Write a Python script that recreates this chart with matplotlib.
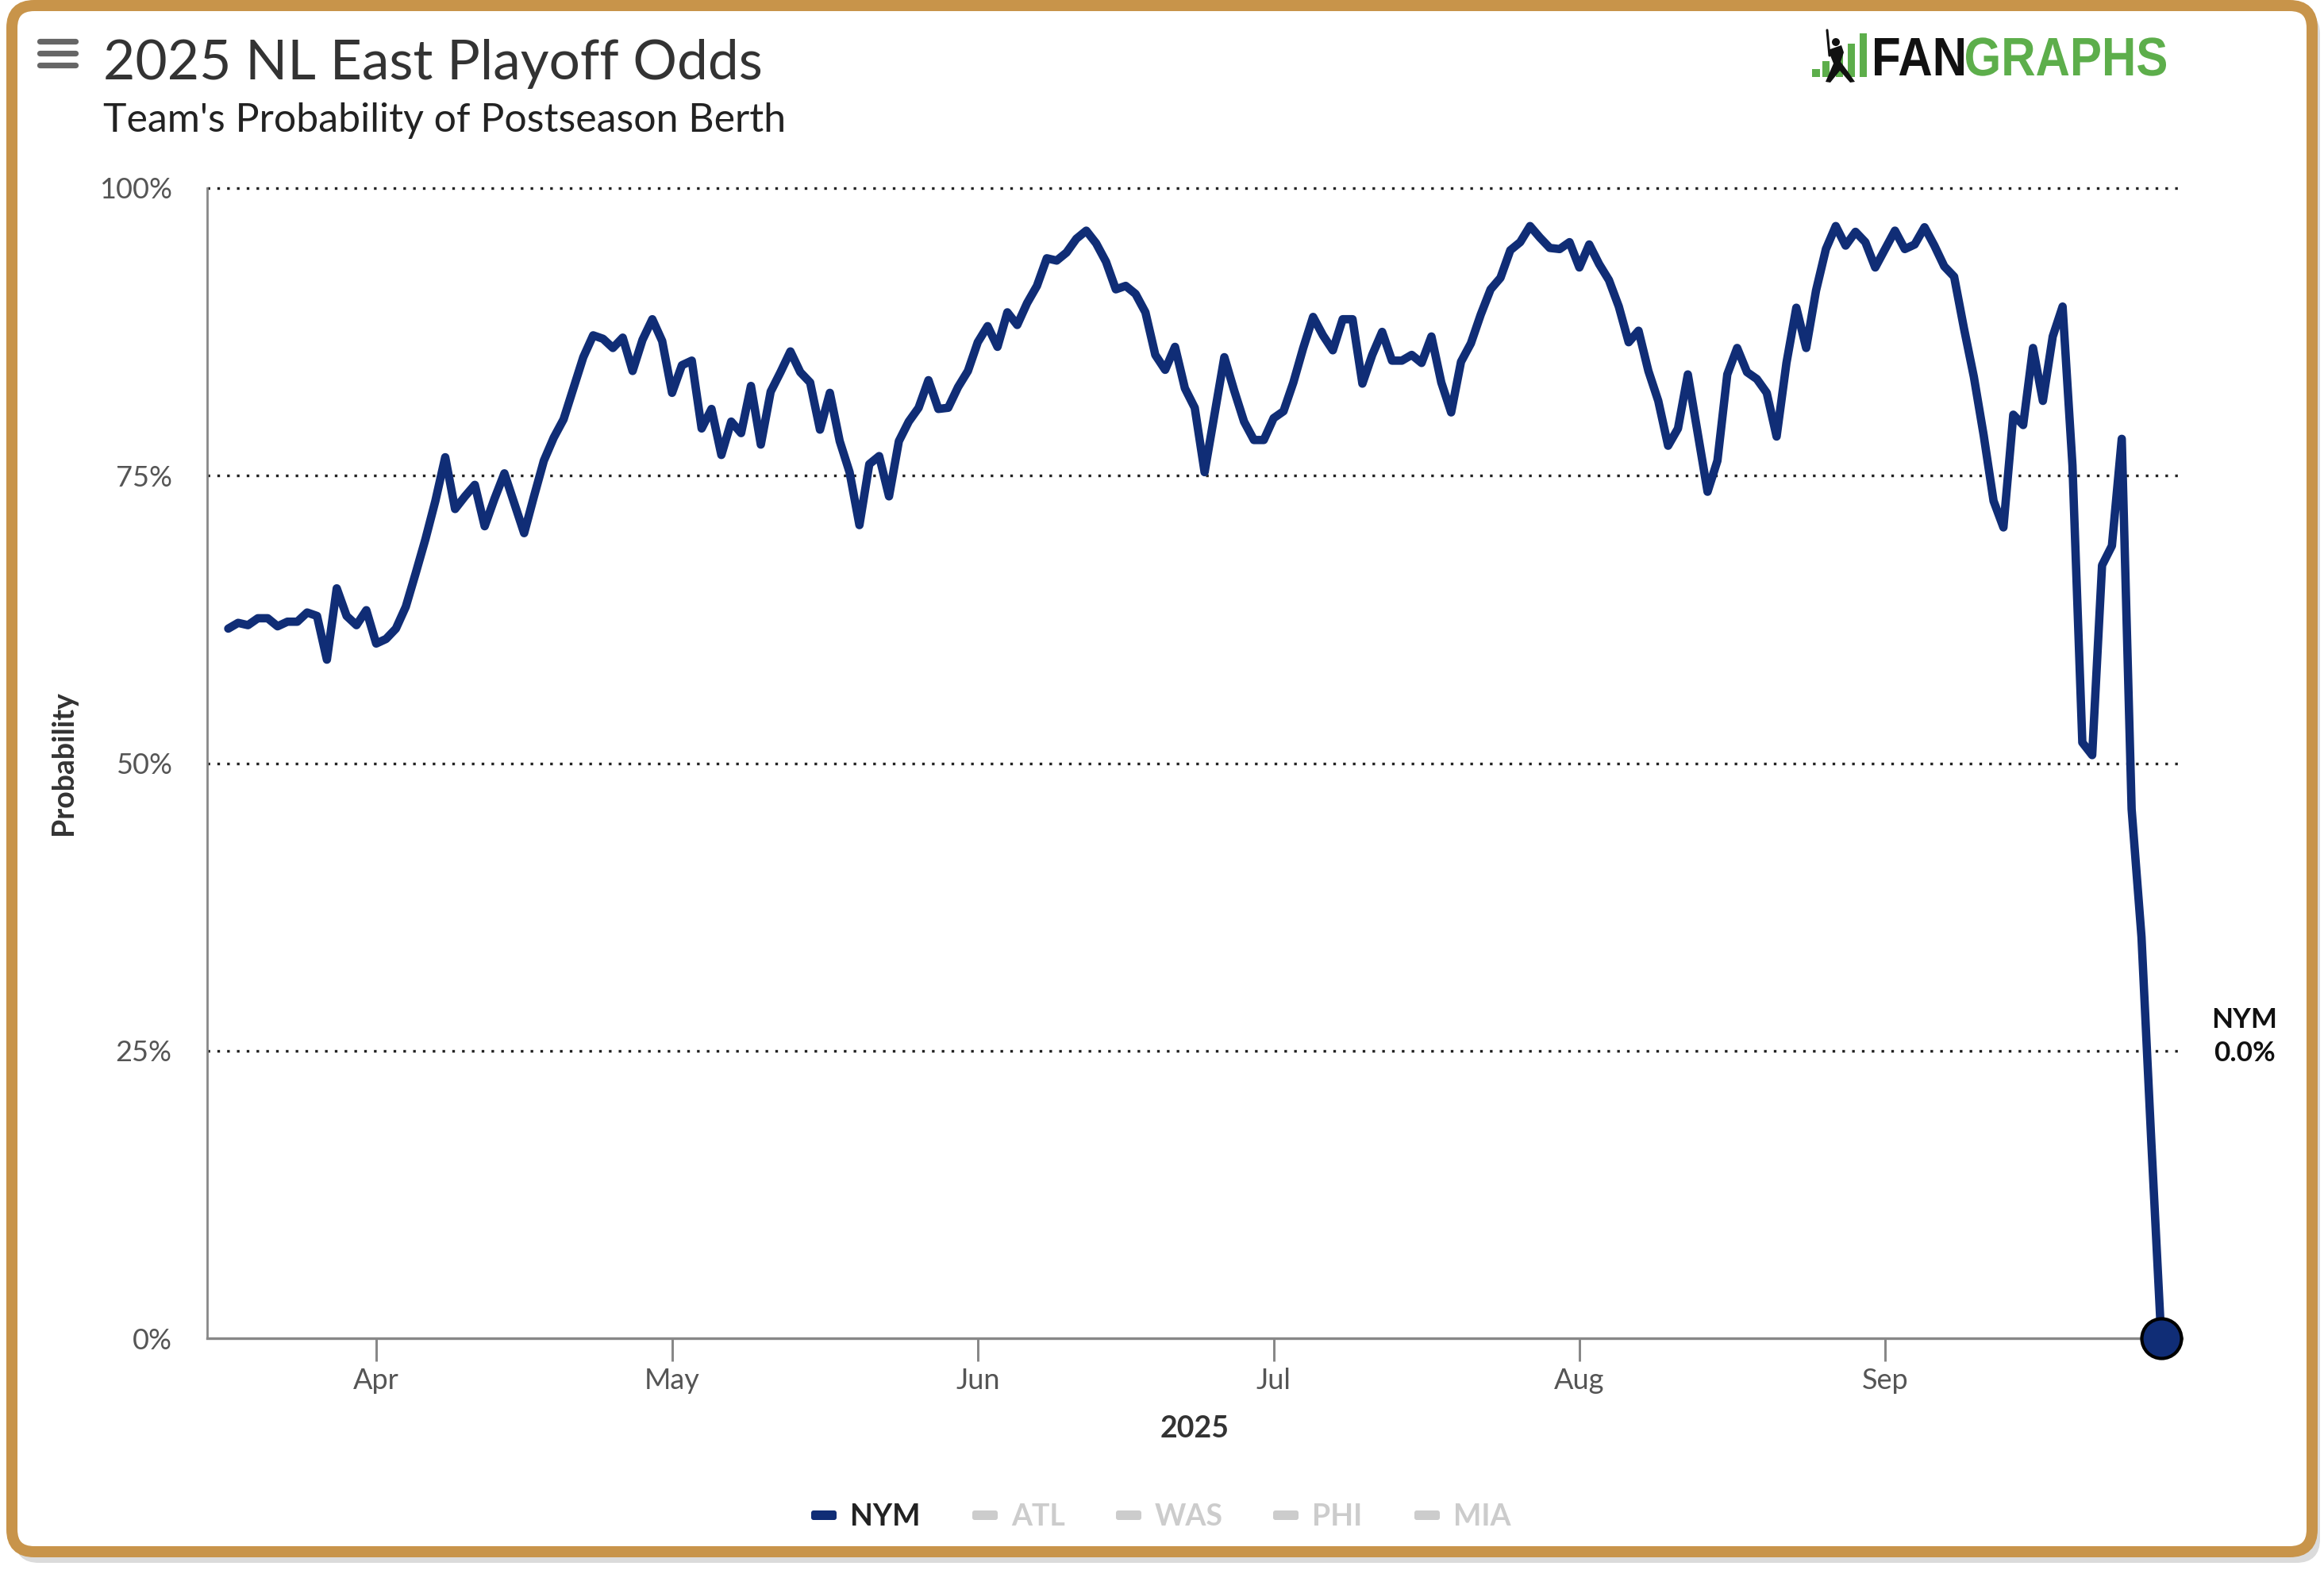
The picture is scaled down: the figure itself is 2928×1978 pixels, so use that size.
import numpy as np
import matplotlib
matplotlib.use("Agg")
import matplotlib.pyplot as plt
import matplotlib.dates as mdates
from matplotlib.patches import FancyBboxPatch, Rectangle, Polygon, Circle, PathPatch
from matplotlib.textpath import TextPath
from matplotlib.font_manager import FontProperties
from matplotlib.transforms import Affine2D

plt.rcParams['font.family'] = ['Lato', 'DejaVu Sans']

# ---- data: NYM daily playoff odds (%), 2025-03-17 .. 2025-09-29 ----
mar_odds = [61.7, 62.2, 62.0, 62.6, 62.6, 61.9, 62.3, 62.3, 63.1, 62.8, 59.0, 65.2, 62.8, 62.0, 63.3]
apr_odds = [60.4, 60.8, 61.7, 63.6, 66.5, 69.5, 72.8, 76.6, 72.1, 73.2, 74.2, 70.6, 73.0, 75.2, 72.6,
            70.0, 73.2, 76.3, 78.3, 79.9, 82.6, 85.3, 87.2, 86.9, 86.1, 87.0, 84.1, 86.8, 88.6, 86.7]
may_odds = [82.2, 84.6, 85.0, 79.1, 80.8, 76.8, 79.7, 78.7, 82.8, 77.7, 82.3, 84.0, 85.8, 84.0, 83.1,
            79.0, 82.2, 78.0, 75.3, 70.7, 76.0, 76.7, 73.2, 78.0, 79.7, 80.9, 83.3, 80.8, 80.9, 82.7, 84.1]
jun_odds = [86.6, 88.0, 86.2, 89.2, 88.1, 90.0, 91.5, 93.9, 93.7, 94.4, 95.6, 96.3, 95.2, 93.6, 91.2,
            91.5, 90.8, 89.2, 85.5, 84.2, 86.2, 82.6, 80.9, 75.3, 80.3, 85.3, 82.4, 79.7, 78.1, 78.1]
jul_odds = [80.0, 80.6, 83.1, 86.1, 88.8, 87.2, 85.9, 88.6, 88.6, 83.0, 85.5, 87.5, 85.0, 85.0, 85.5,
            84.8, 87.1, 83.1, 80.5, 84.9, 86.5, 89.0, 91.2, 92.2, 94.6, 95.3, 96.7, 95.7, 94.8, 94.7, 95.3]
aug_odds = [93.1, 95.1, 93.4, 92.0, 89.7, 86.6, 87.6, 84.1, 81.5, 77.6, 79.1, 83.8, 78.7, 73.6, 76.3,
            83.8, 86.1, 84.0, 83.4, 82.2, 78.4, 84.8, 89.6, 86.1, 91.1, 94.7, 96.7, 95.0, 96.2, 95.3, 93.1]
sep_odds = [94.7, 96.3, 94.7, 95.1, 96.6, 95.0, 93.2, 92.3, 87.8, 83.6, 78.5, 72.8, 70.5, 80.3, 79.4,
            86.1, 81.5, 87.1, 89.7, 75.9, 51.8, 50.7, 67.2, 68.9, 78.2, 46.0, 34.9, 17.0, 0.0]

nym_odds = np.array(mar_odds + apr_odds + may_odds + jun_odds + jul_odds + aug_odds + sep_odds)
dates = np.arange('2025-03-17', '2025-09-30', dtype='datetime64[D]')

month_ticks = ['2025-04-01', '2025-05-01', '2025-06-01', '2025-07-01', '2025-08-01', '2025-09-01']
month_labels = ['Apr', 'May', 'Jun', 'Jul', 'Aug', 'Sep']
y_ticks = [0, 25, 50, 75, 100]
teams = ['NYM', 'ATL', 'WAS', 'PHI', 'MIA']
team_active = [True, False, False, False, False]

NAVY = '#102D76'
GOLD = '#C8944A'
GREEN = '#5DAE4B'

W, H = 2928, 1978
fig = plt.figure(figsize=(W / 200, H / 200), dpi=200)
fig.patch.set_facecolor('white')

# background layer in pixel coordinates (frame, icons, legend)
bg = fig.add_axes([0, 0, 1, 1], zorder=0)
bg.set_xlim(0, W); bg.set_ylim(H, 0); bg.axis('off')

bg.add_patch(FancyBboxPatch((19, 13), 2904, 1956, boxstyle="round,pad=0,rounding_size=30",
                            fc='#9a9a9a', ec='none', alpha=0.35))
bg.add_patch(FancyBboxPatch((15, 7), 2898, 1948, boxstyle="round,pad=0,rounding_size=28",
                            fc='white', ec=GOLD, lw=5.04))

# hamburger menu
for yy in (52, 67, 82):
    bg.plot([50, 95], [yy, yy], color='#666666', lw=2.6, solid_capstyle='round')

# FanGraphs logo: bars + batter + wordmark
bg.add_patch(Rectangle((2283, 87), 10, 10, fc=GREEN, ec='none'))
for x0, top in [(2296, 77), (2313, 68), (2328, 55), (2343, 42)]:
    bg.add_patch(Rectangle((x0, top), 9, 97 - top, fc=GREEN, ec='none'))
bg.plot([2302, 2305], [38, 70], color='#111', lw=1.1, solid_capstyle='round')
bg.add_patch(Circle((2313, 53), 5, fc='#111', ec='none'))
bg.add_patch(Polygon([(2303, 63), (2320, 57), (2323, 66), (2319, 78), (2328, 90), (2337, 103),
                      (2331, 104), (2318, 89), (2306, 104), (2300, 103), (2310, 80), (2306, 70)],
                     closed=True, fc='#111', ec='none'))
fp = FontProperties(family='Liberation Sans', weight='bold')
cap = TextPath((0, 0), "F", size=100, prop=fp).get_extents().height
for word, x0, x1, col in [("FAN", 2362, 2474, '#111111'), ("GRAPHS", 2477, 2729, GREEN)]:
    tp = TextPath((0, 0), word, size=100, prop=fp)
    ext = tp.get_extents()
    tr = Affine2D().translate(-ext.x0, 0).scale((x1 - x0) / ext.width, -47 / cap).translate(x0, 95)
    bg.add_patch(PathPatch(tr.transform_path(tp), fc=col, ec='none'))

# titles
fig.text(130 / W, 1 - 100 / H, "2025 NL East Playoff Odds", fontsize=25, color='#333333', va='baseline')
fig.text(130 / W, 1 - 166 / H, "Team's Probability of Postseason Berth", fontsize=18,
         color='#222222', va='baseline')

# ---- main chart ----
ax = fig.add_axes([261 / W, 1 - 1686 / H, (2749 - 261) / W, (1686 - 237) / H], zorder=1)
ax.set_facecolor('none')
x = mdates.date2num(dates)
apr1 = mdates.datestr2num('2025-04-01')
ax.set_xlim(apr1 - 17.14, apr1 + 183.1)
ax.set_ylim(0, 100)

for yv in y_ticks[1:]:
    ax.axhline(yv, color='#222222', lw=1.2, ls=(0, (1, 2.7)), dash_capstyle='butt',
               clip_on=False, zorder=1)

ax.plot(x, nym_odds, color=NAVY, lw=3.8, solid_joinstyle='round', solid_capstyle='round', zorder=3)
ax.plot(x[-1], nym_odds[-1], 'o', ms=18, mfc=NAVY, mec='black', mew=1.5, clip_on=False, zorder=4)

for s in ('top', 'right'):
    ax.spines[s].set_visible(False)
ax.spines['left'].set_color('#888888'); ax.spines['left'].set_linewidth(1.0)
ax.spines['bottom'].set_color('#888888'); ax.spines['bottom'].set_linewidth(1.2)

ax.set_yticks(y_ticks)
ax.set_yticklabels([f"{v}%" for v in y_ticks])
ax.tick_params(axis='y', length=0, pad=16, labelsize=13, labelcolor='#555555')
ax.set_xticks(mdates.datestr2num(month_ticks))
ax.set_xticklabels(month_labels)
ax.tick_params(axis='x', length=10.4, width=1.08, color='#888888', pad=3, labelsize=13,
               labelcolor='#555555')

fig.text(1505 / W, 1 - 1811 / H, "2025", fontsize=13.5, fontweight='bold', color='#333333',
         ha='center', va='baseline')
fig.text(80 / W, 1 - 961 / H, "Probability", fontsize=13.5, fontweight='bold', color='#333333',
         ha='center', va='center', rotation=90)

# end-of-line label
fig.text(2828 / W, 1 - 1295 / H, teams[0], fontsize=12.6, fontweight='bold', color='#111111',
         ha='center', va='baseline')
fig.text(2828 / W, 1 - 1337 / H, f"{nym_odds[-1]:.1f}%", fontsize=12.6, fontweight='bold',
         color='#111111', ha='center', va='baseline')

# legend
sym_x = [1022, 1225, 1406, 1604, 1782]
for team, active, sx in zip(teams, team_active, sym_x):
    col = NAVY if active else '#CCCCCC'
    bg.add_patch(FancyBboxPatch((sx, 1903), 32, 12, boxstyle="round,pad=0,rounding_size=3",
                                fc=col, ec='none'))
    fig.text((sx + 49) / W, 1 - 1922 / H, team, fontsize=13.5, fontweight='bold',
             color='#222222' if active else '#CCCCCC', va='baseline')

fig.savefig("out.png", dpi=200, facecolor='white')
